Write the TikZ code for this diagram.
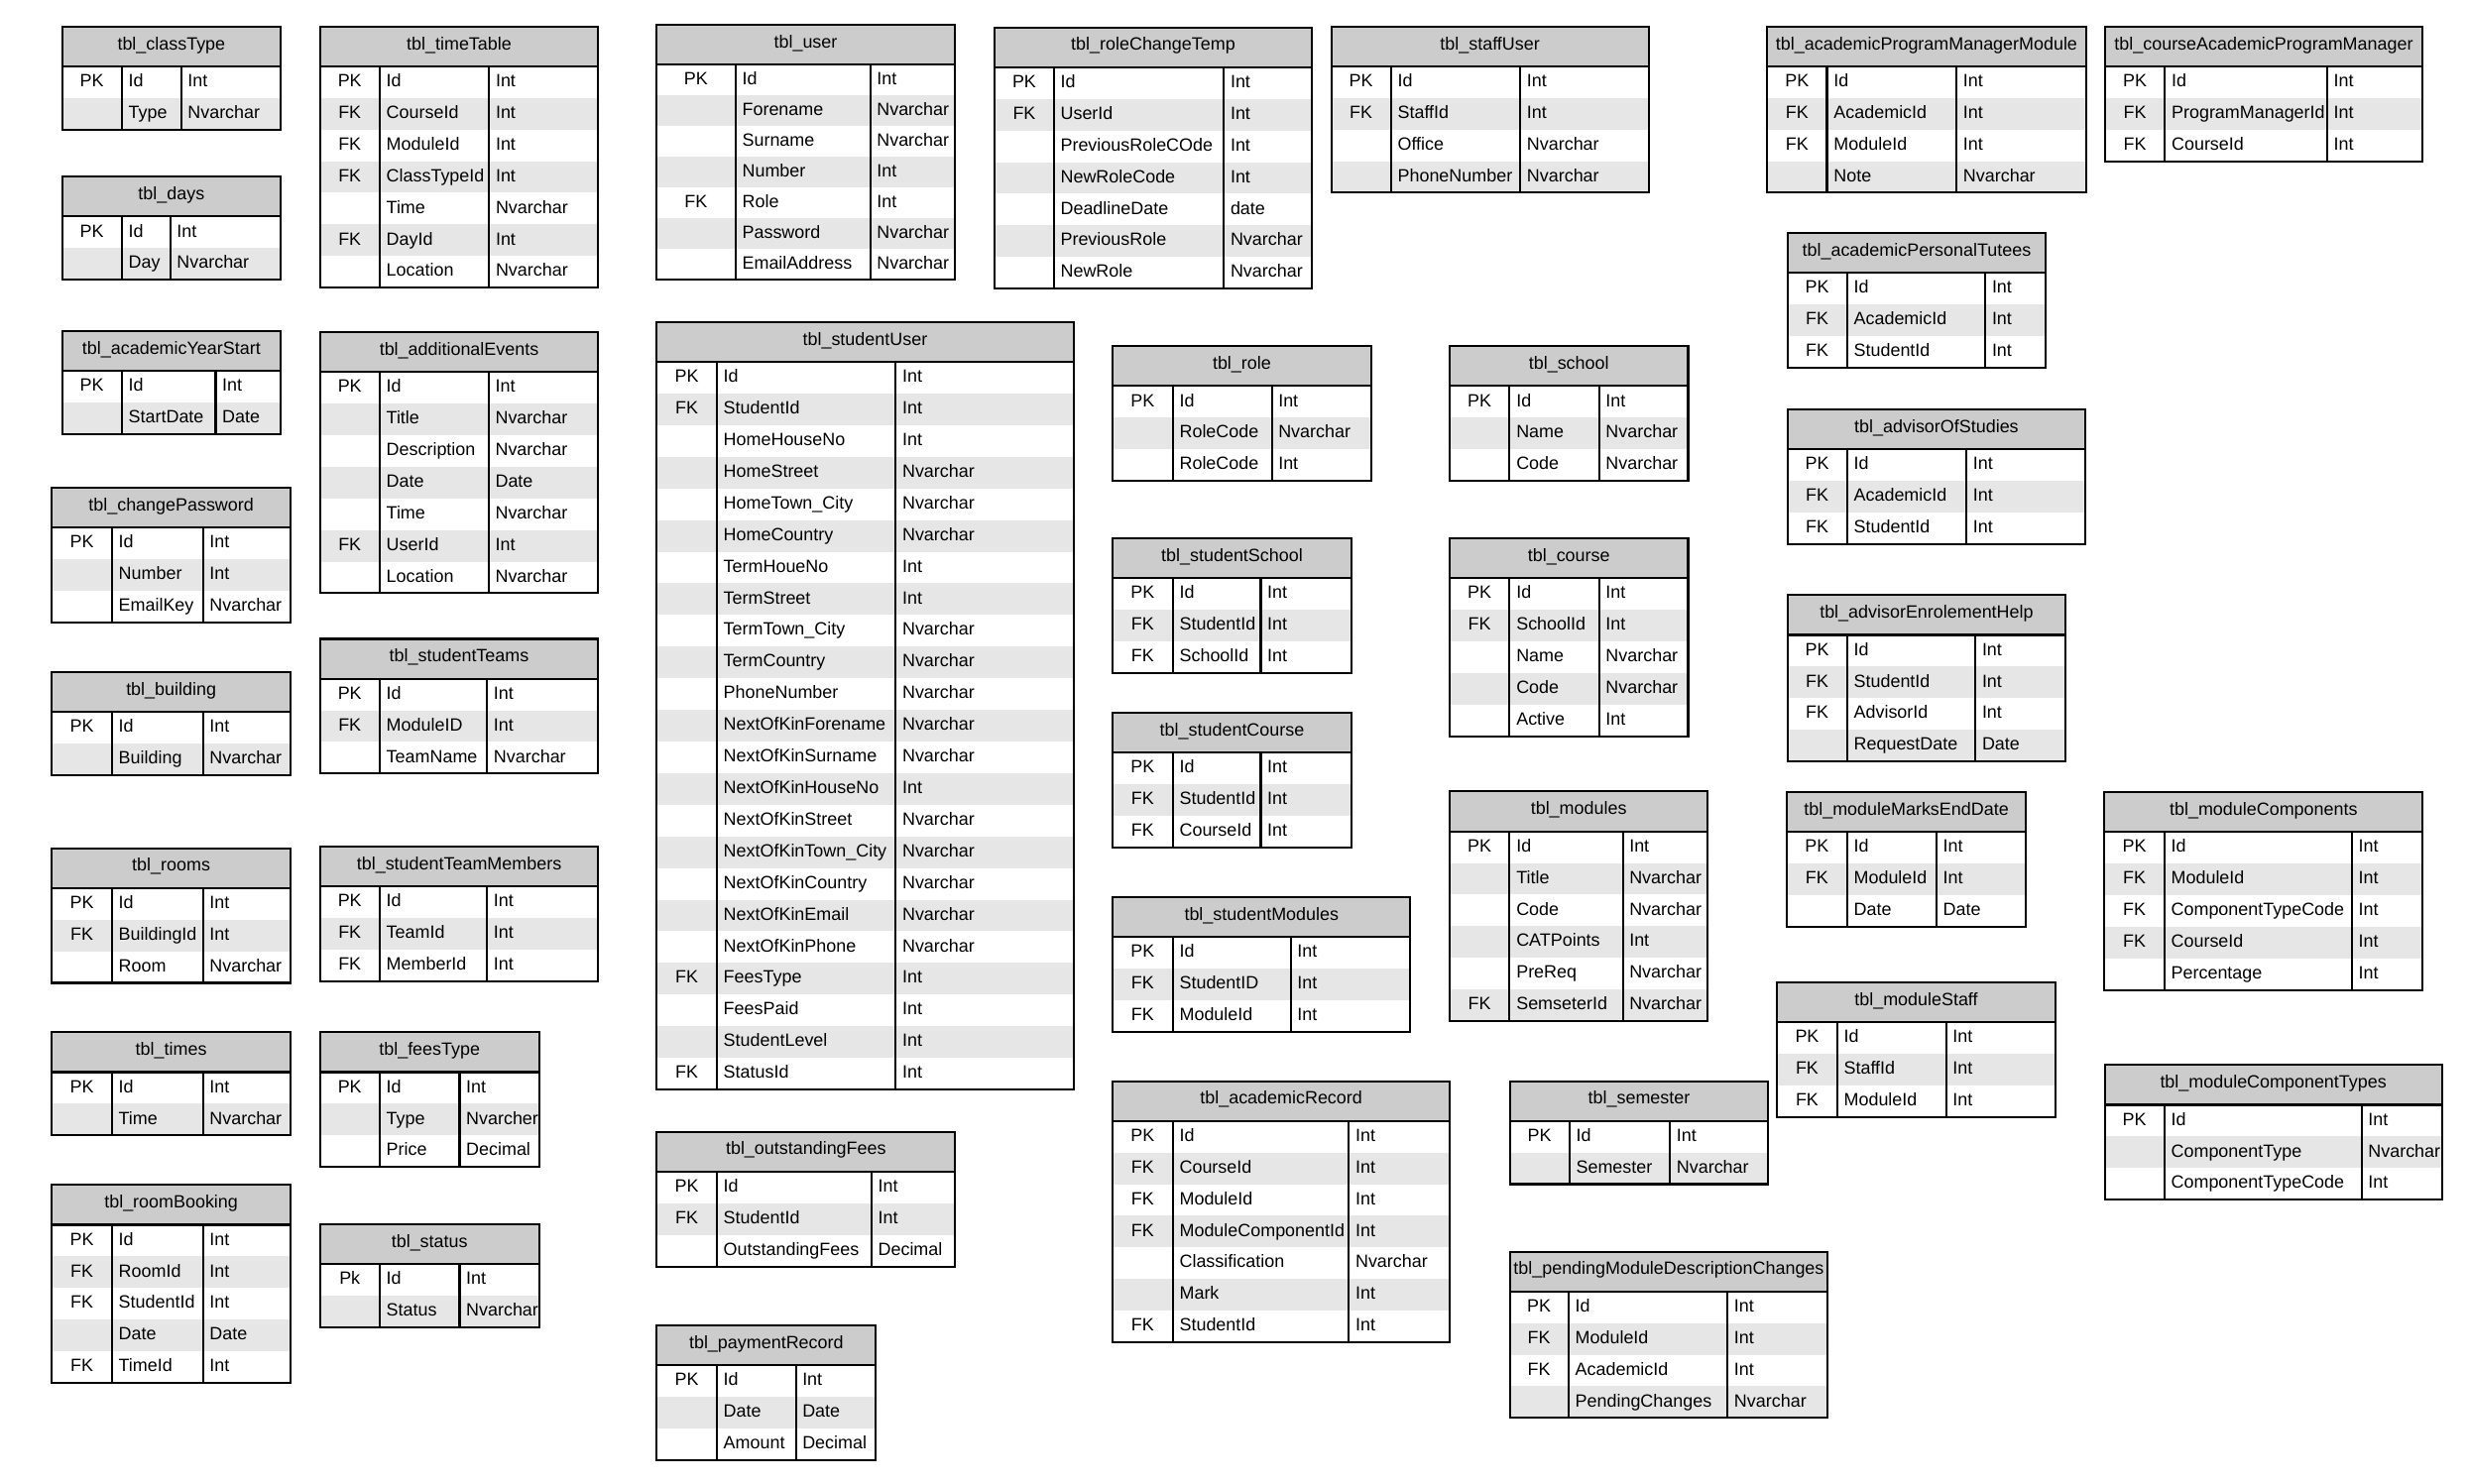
\documentclass[tikz,border=0pt]{standalone}
\usepackage{fontspec}
\setmainfont{Liberation Sans}
\definecolor{hdrgray}{HTML}{CCCCCC}
\definecolor{rowgray}{HTML}{E6E6E6}
\tikzset{
  tableline/.style={line width=1.3pt, draw=black},
  titletext/.style={anchor=base, inner sep=0pt, font=\fontsize{11.3}{13}\selectfont},
  keytext/.style={anchor=base, inner sep=0pt, font=\fontsize{11.3}{13}\selectfont},
  celltext/.style={anchor=base west, inner sep=0pt, font=\fontsize{11.3}{13}\selectfont},
}
\newcommand{\hdrH}{25.3}
\newcommand{\rowH}{20.1}
% \ertable{id}{title}{left}{top}{sep1}{sep2}{right}{rows}{key/name/type,...}
\newcommand{\ertable}[9]{%
  \pgfmathsetmacro{\hb}{#4+\hdrH}%
  \pgfmathsetmacro{\tb}{#4+\hdrH+#8*\rowH}%
  \fill[hdrgray] (#3,#4) rectangle (#7,\hb);
  \node[titletext] (#1) at ({(#3+#7)/2},{#4+14.7}) {#2};
  \foreach \k/\n/\t [count=\i] in {#9} {
    \pgfmathsetmacro{\rt}{\hb+(\i-1)*\rowH}
    \ifodd\i\else\fill[rowgray] (#3,\rt) rectangle (#7,\rt+\rowH);\fi
    \node[keytext] (#1-k\i) at ({(#3+#5)/2},\rt+13) {\k};
    \node[celltext] (#1-n\i) at (#5+4.2,\rt+13) {\n};
    \node[celltext] (#1-t\i) at (#6+4,\rt+13) {\t};
  }
  \draw[tableline] (#3,\hb) -- (#7,\hb);
  \draw[tableline] (#5,\hb) -- (#5,\tb);
  \draw[tableline] (#6,\hb) -- (#6,\tb);
  \draw[tableline] (#3,#4) rectangle (#7,\tb);
}
\begin{document}
\begin{tikzpicture}[x=1pt,y=-1pt]
\useasboundingbox (0,0) rectangle (1568,943);
\fill[white] (0,0) rectangle (1568,943);

% first column
\ertable{classType}{tbl\_classType}{39.5}{16.8}{77.3}{115.1}{178.3}{2}{PK/Id/Int, /Type/Nvarchar}
\ertable{days}{tbl\_days}{39.5}{112.3}{77.3}{108.2}{178.3}{2}{PK/Id/Int, /Day/Nvarchar}
\ertable{academicYearStart}{tbl\_academicYearStart}{39.5}{210.5}{77.3}{137}{178.3}{2}{PK/Id/Int, /StartDate/Date}
\ertable{changePassword}{tbl\_changePassword}{33}{310}{71}{129}{184.5}{3}{PK/Id/Int, /Number/Int, /EmailKey/Nvarchar}
\ertable{building}{tbl\_building}{33}{427}{71}{129}{184.5}{2}{PK/Id/Int, /Building/Nvarchar}
\ertable{rooms}{tbl\_rooms}{33}{539}{71}{129}{184.5}{3}{PK/Id/Int, FK/BuildingId/Int, /Room/Nvarchar}
\ertable{times}{tbl\_times}{33}{656}{71}{129}{184.5}{2}{PK/Id/Int, /Time/Nvarchar}
\ertable{roomBooking}{tbl\_roomBooking}{33}{753}{71}{129}{184.5}{5}{PK/Id/Int, FK/RoomId/Int, FK/StudentId/Int, /Date/Date, FK/TimeId/Int}

% second column
\ertable{timeTable}{tbl\_timeTable}{203.3}{16.8}{241.1}{310.8}{380.1}{7}{PK/Id/Int, FK/CourseId/Int, FK/ModuleId/Int, FK/ClassTypeId/Int, /Time/Nvarchar, FK/DayId/Int, /Location/Nvarchar}
\ertable{additionalEvents}{tbl\_additionalEvents}{203.3}{211}{241.1}{310.5}{380.1}{7}{PK/Id/Int, /Title/Nvarchar, /Description/Nvarchar, /Date/Date, /Time/Nvarchar, FK/UserId/Int, /Location/Nvarchar}
\ertable{studentTeams}{tbl\_studentTeams}{203.3}{406}{241.1}{309.5}{380.1}{3}{PK/Id/Int, FK/ModuleID/Int, /TeamName/Nvarchar}
\ertable{studentTeamMembers}{tbl\_studentTeamMembers}{203.3}{538}{241.1}{309.5}{380.1}{3}{PK/Id/Int, FK/TeamId/Int, FK/MemberId/Int}
\ertable{feesType}{tbl\_feesType}{203.3}{656}{241.1}{292}{342.5}{3}{PK/Id/Int, /Type/Nvarcher, /Price/Decimal}
\ertable{status}{tbl\_status}{203.3}{778}{241.1}{292}{342.5}{2}{Pk/Id/Int, /Status/Nvarchar}

% third column
\renewcommand{\rowH}{19.5}
\ertable{user}{tbl\_user}{417.2}{15.7}{467.2}{552.9}{606.5}{7}{PK/Id/Int, /Forename/Nvarchar, /Surname/Nvarchar, /Number/Int, FK/Role/Int, /Password/Nvarchar, /EmailAddress/Nvarchar}
\renewcommand{\rowH}{20.1}
\ertable{studentUser}{tbl\_studentUser}{417.2}{204.7}{455.3}{569.1}{682}{23}{PK/Id/Int, FK/StudentId/Int, /HomeHouseNo/Int, /HomeStreet/Nvarchar, /HomeTown\_City/Nvarchar, /HomeCountry/Nvarchar, /TermHoueNo/Int, /TermStreet/Int, /TermTown\_City/Nvarchar, /TermCountry/Nvarchar, /PhoneNumber/Nvarchar, /NextOfKinForename/Nvarchar, /NextOfKinSurname/Nvarchar, /NextOfKinHouseNo/Int, /NextOfKinStreet/Nvarchar, /NextOfKinTown\_City/Nvarchar, /NextOfKinCountry/Nvarchar, /NextOfKinEmail/Nvarchar, /NextOfKinPhone/Nvarchar, FK/FeesType/Int, /FeesPaid/Int, /StudentLevel/Int, FK/StatusId/Int}
\ertable{outstandingFees}{tbl\_outstandingFees}{417.2}{719.2}{455.3}{553.7}{606.9}{3}{PK/Id/Int, FK/StudentId/Int, /OutstandingFees/Decimal}
\ertable{paymentRecord}{tbl\_paymentRecord}{417.2}{842.1}{455.3}{505.6}{556.5}{3}{PK/Id/Int, /Date/Date, /Amount/Decimal}

% fourth column
\ertable{roleChangeTemp}{tbl\_roleChangeTemp}{632.1}{17.4}{669.4}{777.6}{833.2}{7}{PK/Id/Int, FK/UserId/Int, /PreviousRoleCOde/Int, /NewRoleCode/Int, /DeadlineDate/date, /PreviousRole/Nvarchar, /NewRole/Nvarchar}
\ertable{role}{tbl\_role}{707}{220}{745}{808}{871}{3}{PK/Id/Int, /RoleCode/Nvarchar, /RoleCode/Int}
\ertable{studentSchool}{tbl\_studentSchool}{707}{342}{745}{801}{858.5}{3}{PK/Id/Int, FK/StudentId/Int, FK/SchoolId/Int}
\ertable{studentCourse}{tbl\_studentCourse}{707}{453}{745}{801}{858.5}{3}{PK/Id/Int, FK/StudentId/Int, FK/CourseId/Int}
\ertable{studentModules}{tbl\_studentModules}{707}{570}{745}{820}{896}{3}{PK/Id/Int, FK/StudentID/Int, FK/ModuleId/Int}
\ertable{academicRecord}{tbl\_academicRecord}{707}{687}{745}{857}{921}{7}{PK/Id/Int, FK/CourseId/Int, FK/ModuleId/Int, FK/ModuleComponentId/Int, /Classification/Nvarchar, /Mark/Int, FK/StudentId/Int}

% fifth column
\ertable{staffUser}{tbl\_staffUser}{845.8}{16.8}{883.6}{965.9}{1047.4}{4}{PK/Id/Int, FK/StaffId/Int, /Office/Nvarchar, /PhoneNumber/Nvarchar}
\ertable{school}{tbl\_school}{921}{220}{959}{1016}{1072.5}{3}{PK/Id/Int, /Name/Nvarchar, /Code/Nvarchar}
\ertable{course}{tbl\_course}{921}{342}{959}{1016}{1072.5}{5}{PK/Id/Int, FK/SchoolId/Int, /Name/Nvarchar, /Code/Nvarchar, /Active/Int}
\ertable{modules}{tbl\_modules}{921}{503}{959}{1031}{1085}{6}{PK/Id/Int, /Title/Nvarchar, /Code/Nvarchar, /CATPoints/Int, /PreReq/Nvarchar, FK/SemseterId/Nvarchar}
\ertable{semester}{tbl\_semester}{959.2}{687}{997}{1061}{1123.5}{2}{PK/Id/Int, /Semester/Nvarchar}
\ertable{pendingChanges}{tbl\_pendingModuleDescriptionChanges}{959.2}{795.4}{996.4}{1097.6}{1161.2}{4}{PK/Id/Int, FK/ModuleId/Int, FK/AcademicId/Int, /PendingChanges/Nvarchar}

% sixth column
\ertable{apmModule}{tbl\_academicProgramManagerModule}{1122.7}{16.8}{1160.7}{1243.1}{1325.3}{4}{PK/Id/Int, FK/AcademicId/Int, FK/ModuleId/Int, /Note/Nvarchar}
\ertable{personalTutees}{tbl\_academicPersonalTutees}{1135.6}{148}{1173.4}{1261.4}{1299.8}{3}{PK/Id/Int, FK/AcademicId/Int, FK/StudentId/Int}
\ertable{advisorOfStudies}{tbl\_advisorOfStudies}{1135.6}{260.1}{1173.4}{1249.4}{1325}{3}{PK/Id/Int, FK/AcademicId/Int, FK/StudentId/Int}
\ertable{enrolementHelp}{tbl\_advisorEnrolementHelp}{1135.6}{378.2}{1173.4}{1255.1}{1312.4}{4}{PK/Id/Int, FK/StudentId/Int, FK/AdvisorId/Int, /RequestDate/Date}
\ertable{marksEndDate}{tbl\_moduleMarksEndDate}{1135.2}{503.3}{1173.4}{1230.3}{1287.1}{3}{PK/Id/Int, FK/ModuleId/Int, /Date/Date}
\ertable{moduleStaff}{tbl\_moduleStaff}{1129.1}{624.1}{1167.1}{1236.4}{1305.7}{3}{PK/Id/Int, FK/StaffId/Int, FK/ModuleId/Int}

% seventh column
\ertable{courseApm}{tbl\_courseAcademicProgramManager}{1337.4}{16.8}{1375.3}{1478.5}{1539}{3}{PK/Id/Int, FK/ProgramManagerId/Int, FK/CourseId/Int}
\ertable{moduleComponents}{tbl\_moduleComponents}{1337}{503.3}{1375}{1494.3}{1539.2}{5}{PK/Id/Int, FK/ModuleId/Int, FK/ComponentTypeCode/Int, FK/CourseId/Int, /Percentage/Int}
\ertable{componentTypes}{tbl\_moduleComponentTypes}{1337.2}{676.8}{1375}{1500.4}{1551.4}{3}{PK/Id/Int, /ComponentType/Nvarchar, /ComponentTypeCode/Int}
\end{tikzpicture}
\end{document}
